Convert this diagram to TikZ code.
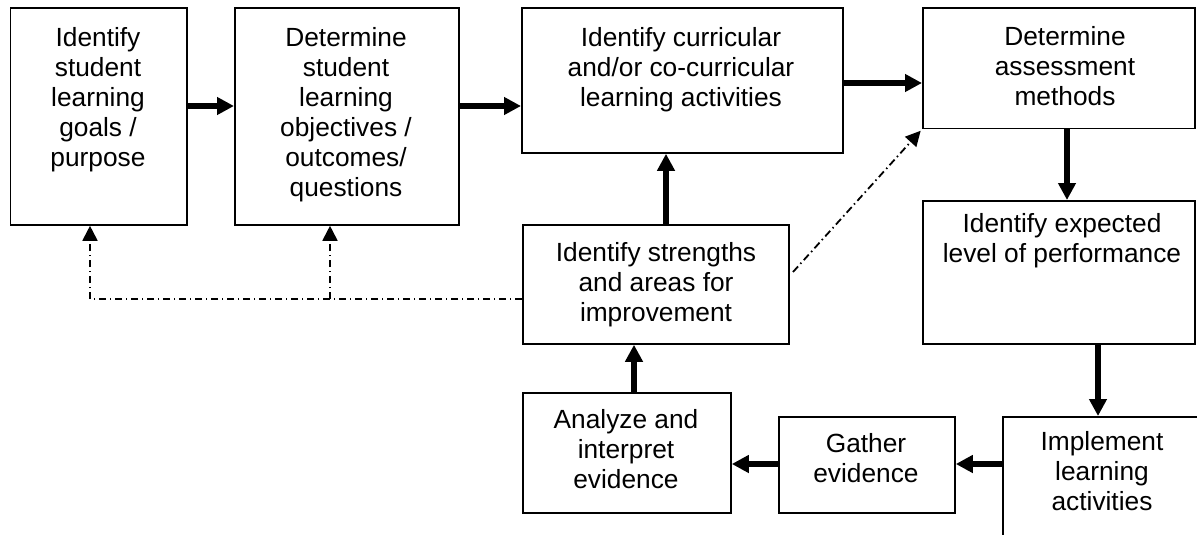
\documentclass[tikz,border=0pt]{standalone}
\usepackage{fontspec}
\setmainfont{Liberation Sans}
\usetikzlibrary{arrows.meta}
\begin{document}
\begin{tikzpicture}[x=1pt,y=-1pt,
 box/.style={draw,line width=1.8pt,rectangle,inner sep=0pt,anchor=north west},
 txt/.style={anchor=north,align=center,inner sep=0pt,font=\fontsize{26.3}{30}\selectfont},
 arr/.style={line width=5.5pt,-{Triangle[length=17pt,width=17pt]}},
 dd/.style={line width=1.8pt,dash pattern=on 7.5pt off 3.5pt on 1.5pt off 3.5pt},
 dda/.style={dd,-{Triangle[length=15pt,width=15pt]}}]
\useasboundingbox (0,0) rectangle (1197,535);
\clip (0,0) rectangle (1197,535);
% boxes
\node[box,minimum width=176.5pt,minimum height=216.5pt] (b1) at (9.5,7.5) {};
\node[box,minimum width=224pt,minimum height=216.5pt] (b2) at (234,7.5) {};
\node[box,minimum width=321pt,minimum height=144.5pt] (b3) at (521,7.5) {};
\node[box,minimum width=272pt,minimum height=120pt] (b4) at (922,7.5) {};
\node[box,minimum width=272pt,minimum height=143pt] (b5) at (922,200) {};
\node[box,minimum width=200pt,minimum height=150pt] (b6) at (1002,416) {};
\node[box,minimum width=176pt,minimum height=96pt] (b7) at (778,416) {};
\node[box,minimum width=208pt,minimum height=120pt] (b8) at (522,392) {};
\node[box,minimum width=266pt,minimum height=119pt] (b9) at (522,224) {};
% texts
\node[txt] (t1) at (98,27.5) {Identify\\student\\learning\\goals /\\purpose};
\node[txt] (t2) at (346,27.5) {Determine\\student\\learning\\objectives /\\outcomes/\\questions};
\node[txt] (t3) at (681,27.5) {Identify curricular\\and/or co-curricular\\learning activities};
\node[txt] (t4) at (1065,26) {Determine\\assessment\\methods};
\node[txt] (t5) at (1062,213) {Identify expected\\level of performance};
\node[txt] (t6) at (1102,431) {Implement\\learning\\activities};
\node[txt] (t7) at (866,433) {Gather\\evidence};
\node[txt] (t8) at (626,409) {Analyze and\\interpret\\evidence};
\node[txt] (t9) at (656,242) {Identify strengths\\and areas for\\improvement};
% helper coordinates
\coordinate (y106) at (0,106);
\coordinate (y83) at (0,83);
\coordinate (y464) at (0,464);
\coordinate (x1067) at (1067,0);
\coordinate (x1098) at (1098,0);
\coordinate (x634) at (634,0);
\coordinate (x666) at (666,0);
% solid arrows
\draw[arr] (b1.east |- y106) -- (b2.west |- y106);
\draw[arr] (b2.east |- y106) -- (b3.west |- y106);
\draw[arr] (b3.east |- y83) -- (b4.west |- y83);
\draw[arr] (x1067 |- b4.south) -- (x1067 |- b5.north);
\draw[arr] (x1098 |- b5.south) -- (x1098 |- b6.north);
\draw[arr] (b6.west |- y464) -- (b7.east |- y464);
\draw[arr] (b7.west |- y464) -- (b8.east |- y464);
\draw[arr] (x634 |- b8.north) -- (x634 |- b9.south);
\draw[arr] (x666 |- b9.north) -- (x666 |- b3.south);
% dash-dot feedback
\coordinate (j1) at (90,299);
\coordinate (j2) at (330,299);
\coordinate (d0) at (793,272);
\draw[dd] (b9.west |- j1) -- (j1);
\draw[dda] (j1) -- (j1 |- b1.south);
\draw[dda] (j2) -- (j2 |- b2.south);
\draw[dda,shorten >=2pt] (d0) -- (b4.south west);
\end{tikzpicture}
\end{document}
